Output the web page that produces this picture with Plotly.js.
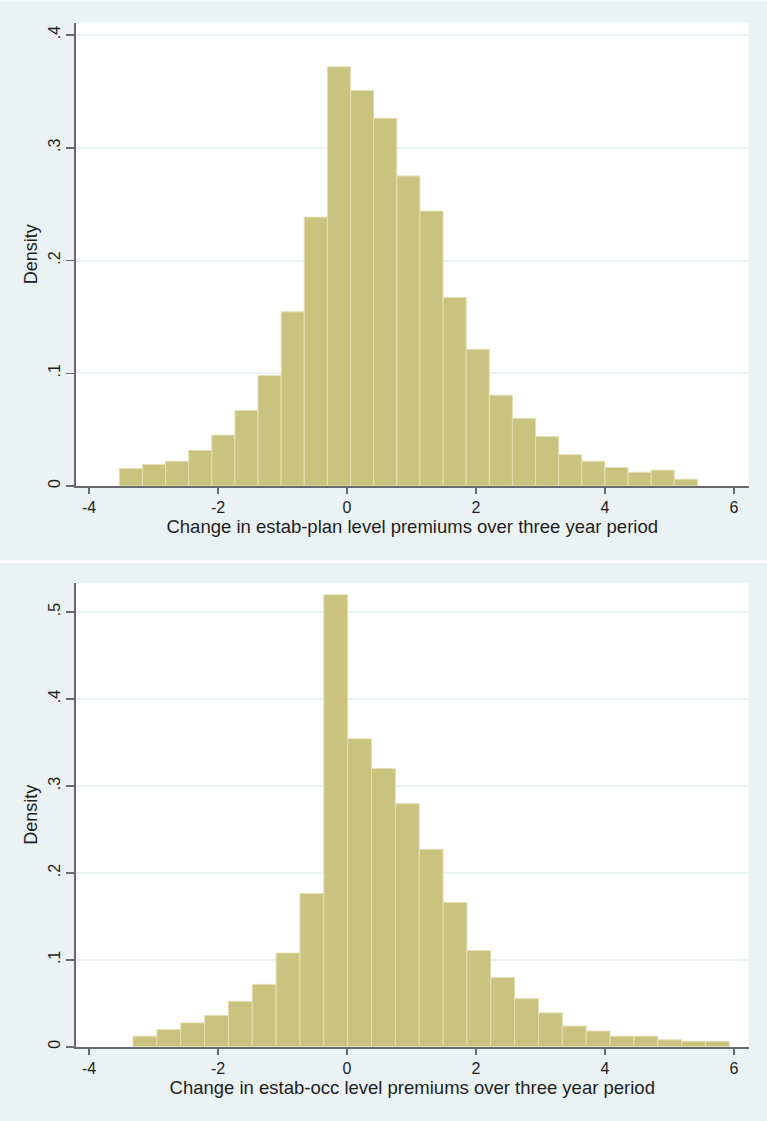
<!DOCTYPE html>
<html>
<head>
<meta charset="utf-8">
<script src="https://cdn.plot.ly/plotly-3.0.1.min.js"></script>
<style>
  html, body { margin: 0; padding: 0; background: #ffffff; }
  #chart { width: 767px; height: 1121px; }
</style>
</head>
<body>
<div id="chart"></div>
<script>
// ---- Data ----
// Panel 1: change in estab-plan level premiums over three year period
const planBinStart = -3.53;
const planBinWidth = 0.3585;
const planDensity = [0.0155, 0.019, 0.022, 0.0315, 0.0452, 0.067, 0.098, 0.1545,
  0.2385, 0.3718, 0.3508, 0.3261, 0.275, 0.2439, 0.1672, 0.1212, 0.0806, 0.06,
  0.0438, 0.0278, 0.022, 0.0164, 0.0122, 0.0141, 0.006];

// Panel 2: change in estab-occ level premiums over three year period
const occBinStart = -3.318;
const occBinWidth = 0.3698;
const occDensity = [0.0122, 0.0198, 0.0275, 0.036, 0.0523, 0.0718, 0.1078, 0.1763,
  0.5198, 0.3542, 0.32, 0.2795, 0.2271, 0.166, 0.1107, 0.0795, 0.0554, 0.039,
  0.0239, 0.0182, 0.0121, 0.0121, 0.008, 0.0063, 0.0063];

const xTickVals = [-4, -2, 0, 2, 4, 6];
const xTickText = ['-4', '-2', '0', '2', '4', '6'];
const planYTickVals = [0, 0.1, 0.2, 0.3, 0.4];
const planYTickText = ['0', '.1', '.2', '.3', '.4'];
const occYTickVals = [0, 0.1, 0.2, 0.3, 0.4, 0.5];
const occYTickText = ['0', '.1', '.2', '.3', '.4', '.5'];

const planTitle = 'Change in estab-plan level premiums over three year period';
const occTitle = 'Change in estab-occ level premiums over three year period';
const yTitle = 'Density';

// ---- Build ----
function centers(start, width, n) {
  const c = [];
  for (let i = 0; i < n; i++) c.push(start + width * (i + 0.5));
  return c;
}

const barColor = 'rgb(202,195,128)';
const barLine = 'rgb(228,223,180)';

const traces = [
  {
    type: 'bar',
    x: centers(planBinStart, planBinWidth, planDensity.length),
    y: planDensity,
    width: planBinWidth,
    marker: { color: barColor, line: { color: barLine, width: 1 } },
    xaxis: 'x', yaxis: 'y',
    hoverinfo: 'x+y', showlegend: false
  },
  {
    type: 'bar',
    x: centers(occBinStart, occBinWidth, occDensity.length),
    y: occDensity,
    width: occBinWidth,
    marker: { color: barColor, line: { color: barLine, width: 1 } },
    xaxis: 'x2', yaxis: 'y2',
    hoverinfo: 'x+y', showlegend: false
  }
];

const W = 767, H = 1121;
const fontFam = '"Liberation Sans", Arial, Helvetica, sans-serif';
const txtColor = '#1e1e1e';
const axisColor = '#6a6a6a';

function xAxis(anchor, title) {
  return {
    anchor: anchor,
    domain: [76 / W, 748.5 / W],
    range: [-4.2016, 6.2248],
    tickmode: 'array', tickvals: xTickVals, ticktext: xTickText,
    ticks: 'outside', ticklen: 6, tickwidth: 1.5, tickcolor: axisColor,
    showline: true, linecolor: axisColor, linewidth: 2,
    showgrid: false, zeroline: false,
    tickfont: { family: fontFam, size: 16, color: txtColor },
    ticklabelstandoff: 0,
    title: { text: title, font: { family: fontFam, size: 18.5, color: txtColor }, standoff: 2 },
    fixedrange: true
  };
}
function yAxis(anchor, domTopPx, domBotPx, range, vals, text) {
  return {
    anchor: anchor,
    domain: [(H - domBotPx) / H, (H - domTopPx) / H],
    range: range,
    tickmode: 'array', tickvals: vals, ticktext: text,
    tickangle: -90,
    ticks: 'outside', ticklen: 8, tickwidth: 1.5, tickcolor: axisColor,
    showline: true, linecolor: axisColor, linewidth: 2,
    showgrid: true, gridcolor: '#EAF2F3', gridwidth: 2,
    zeroline: false,
    tickfont: { family: fontFam, size: 16, color: txtColor },
    title: { text: yTitle, font: { family: fontFam, size: 18, color: txtColor }, standoff: 3 },
    fixedrange: true
  };
}

const layout = {
  width: W, height: H,
  margin: { l: 0, r: 0, t: 0, b: 0, pad: 0 },
  paper_bgcolor: '#EAF2F3',
  plot_bgcolor: '#ffffff',
  bargap: 0,
  showlegend: false,
  xaxis: xAxis('y', planTitle),
  yaxis: yAxis('x', 22.5, 486, [0, 0.4111], planYTickVals, planYTickText),
  xaxis2: xAxis('y2', occTitle),
  yaxis2: yAxis('x2', 582.7, 1046.8, [0, 0.5337], occYTickVals, occYTickText),
  shapes: [
    { type: 'rect', xref: 'paper', yref: 'paper', x0: 0, x1: 1,
      y0: (H - 563) / H, y1: (H - 560.5) / H,
      fillcolor: '#ffffff', line: { width: 0 }, layer: 'above' },
    { type: 'rect', xref: 'paper', yref: 'paper', x0: 0, x1: 1,
      y0: (H - 1.2) / H, y1: 1,
      fillcolor: '#f6fafa', line: { width: 0 }, layer: 'above' }
  ]
};

Plotly.newPlot('chart', traces, layout, { displayModeBar: false, staticPlot: true });
</script>
</body>
</html>
